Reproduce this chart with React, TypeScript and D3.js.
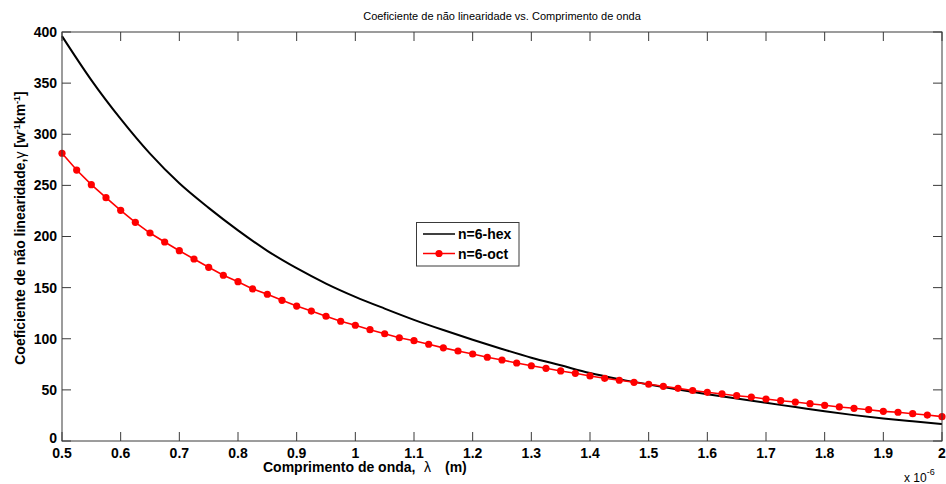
import React from "react";
import * as d3 from "d3";

const W = 946;
const H = 484;

const titleText = "Coeficiente de não linearidade vs. Comprimento de onda";
const seriesNames = ["n=6-hex", "n=6-oct"];

const xTicks = [0.5, 0.6, 0.7, 0.8, 0.9, 1, 1.1, 1.2, 1.3, 1.4, 1.5, 1.6, 1.7, 1.8, 1.9, 2];
const yTicks = [0, 50, 100, 150, 200, 250, 300, 350, 400];

// n=6-hex (black), wavelength in µm
const hexLambda = [
  0.5, 0.55, 0.6, 0.65, 0.7, 0.75, 0.8, 0.85, 0.9, 0.95, 1.0, 1.05, 1.1, 1.15, 1.2, 1.25,
  1.3, 1.35, 1.4, 1.45, 1.5, 1.55, 1.6, 1.65, 1.7, 1.75, 1.8, 1.85, 1.9, 1.95, 2.0,
];
const hexGamma = [
  396, 353, 315, 281, 252, 228, 206, 186, 169, 154, 141, 129.5, 118.5, 108.5, 99, 90,
  81.5, 74, 66.5, 60.5, 55.2, 50.3, 45.8, 41.5, 37.3, 33.2, 29.0, 25.3, 22.0, 19.2, 16.6,
];

// n=6-oct (red with markers)
const octLambda = [
  0.5, 0.525, 0.55, 0.575, 0.6, 0.625, 0.65, 0.675, 0.7, 0.725, 0.75, 0.775,
  0.8, 0.825, 0.85, 0.875, 0.9, 0.925, 0.95, 0.975, 1.0, 1.025, 1.05, 1.075,
  1.1, 1.125, 1.15, 1.175, 1.2, 1.225, 1.25, 1.275, 1.3, 1.325, 1.35, 1.375,
  1.4, 1.425, 1.45, 1.475, 1.5, 1.525, 1.55, 1.575, 1.6, 1.625, 1.65, 1.675,
  1.7, 1.725, 1.75, 1.775, 1.8, 1.825, 1.85, 1.875, 1.9, 1.925, 1.95, 1.975, 2.0,
];
const octGamma = [
  281.4, 265.0, 250.7, 238.0, 225.6, 213.9, 203.4, 194.6, 186.1, 178.0, 169.9, 162.1,
  155.8, 148.7, 143.5, 137.6, 132.0, 127.1, 122.0, 117.1, 113.2, 108.9, 104.9, 101.0,
  98.1, 94.6, 91.1, 88.0, 85.1, 81.9, 79.2, 76.3, 73.6, 71.1, 68.5, 66.2,
  63.6, 61.3, 59.4, 57.4, 55.5, 53.5, 51.5, 49.4, 47.6, 46.0, 44.3, 43.0,
  41.1, 39.4, 38.1, 36.5, 34.9, 33.3, 32.0, 30.6, 29.0, 28.1, 26.7, 25.4, 23.8,
];

const L = 62, R = 942, T = 32, B = 441;
const FONT = "'Liberation Sans', Arial, Helvetica, sans-serif";
const AXIS = "#3a3a3a";

export default function App() {
  const x = d3.scaleLinear().domain([0.5, 2]).range([L, R]);
  const y = d3.scaleLinear().domain([0, 400]).range([B, T]);

  const hexPts: [number, number][] = hexLambda.map((l, i) => [l, hexGamma[i]]);
  const octPts: [number, number][] = octLambda.map((l, i) => [l, octGamma[i]]);

  const hexLine = d3
    .line<[number, number]>()
    .x((d) => x(d[0]))
    .y((d) => y(d[1]))
    .curve(d3.curveMonotoneX)(hexPts) as string;
  const octLine = d3
    .line<[number, number]>()
    .x((d) => x(d[0]))
    .y((d) => y(d[1]))(octPts) as string;

  const tickLen = 9;

  return (
    <svg
      width={W}
      height={H}
      style={{ position: "absolute", left: 0, top: 0, background: "#fff" }}
      fontFamily={FONT}
    >
      <rect x={0} y={0} width={W} height={H} fill="#fff" />
      <text x={(L + R) / 2} y={20} fontSize={11} textAnchor="middle" fill="#000">
        {titleText}
      </text>

      {/* data */}
      <path d={hexLine} fill="none" stroke="#000" strokeWidth={2} />
      <path d={octLine} fill="none" stroke="#ff0000" strokeWidth={1.6} />
      {octPts.map((d, i) => (
        <circle key={i} cx={x(d[0])} cy={y(d[1])} r={3.6} fill="#ff0000" />
      ))}

      {/* axes box */}
      <rect x={L} y={T} width={R - L} height={B - T} fill="none" stroke={AXIS} strokeWidth={1} />

      {xTicks.map((t, i) => (
        <g key={"xt" + i}>
          <line x1={x(t)} x2={x(t)} y1={B} y2={B - tickLen} stroke={AXIS} />
          <line x1={x(t)} x2={x(t)} y1={T} y2={T + tickLen} stroke={AXIS} />
          <text
            x={x(t)}
            y={457.5}
            fontSize={14}
            fontWeight="bold"
            textAnchor="middle"
            fill="#000"
          >
            {t === 1 || t === 2 ? String(t) : t.toFixed(1)}
          </text>
        </g>
      ))}
      {yTicks.map((t, i) => (
        <g key={"yt" + i}>
          <line x1={L} x2={L + tickLen} y1={y(t)} y2={y(t)} stroke={AXIS} />
          <line x1={R} x2={R - tickLen} y1={y(t)} y2={y(t)} stroke={AXIS} />
          <text
            x={57}
            y={y(t) - (t === 0 ? 2.5 : 0)}
            dy="0.35em"
            fontSize={14}
            fontWeight="bold"
            textAnchor="end"
            fill="#000"
          >
            {t}
          </text>
        </g>
      ))}

      {/* x exponent */}
      <text x={904} y={482} fontSize={12} fill="#000">
        x 10
        <tspan dy={-7} fontSize={9}>-6</tspan>
      </text>

      {/* x label */}
      <text y={472} fontSize={14} fontWeight="bold" fill="#000">
        <tspan x={263}>Comprimento de onda,</tspan>
        <tspan x={424} fontWeight="normal">λ</tspan>
        <tspan x={445}>(m)</tspan>
      </text>

      {/* y label */}
      <text
        transform={`translate(25, 228) rotate(-90)`}
        fontSize={14}
        fontWeight="bold"
        textAnchor="middle"
        fill="#000"
      >
        Coeficiente de não linearidade,
        <tspan fontWeight="normal">γ</tspan> [w
        <tspan dy={-5} fontSize={9}>-1</tspan>
        <tspan dy={5}>km</tspan>
        <tspan dy={-5} fontSize={9}>-1</tspan>
        <tspan dy={5}>]</tspan>
      </text>

      {/* legend */}
      <rect x={416.5} y={222.5} width={102.5} height={43.5} fill="#fff" stroke={AXIS} />
      <line x1={423} x2={455} y1={234} y2={234} stroke="#000" strokeWidth={1.5} />
      <text x={458} y={234} dy="0.36em" fontSize={14} fontWeight="bold" fill="#000">
        {seriesNames[0]}
      </text>
      <line x1={423} x2={455} y1={253.5} y2={253.5} stroke="#ff0000" strokeWidth={1.5} />
      <circle cx={439} cy={253.5} r={3.6} fill="#ff0000" />
      <text x={458} y={253.5} dy="0.36em" fontSize={14} fontWeight="bold" fill="#000">
        {seriesNames[1]}
      </text>
    </svg>
  );
}
